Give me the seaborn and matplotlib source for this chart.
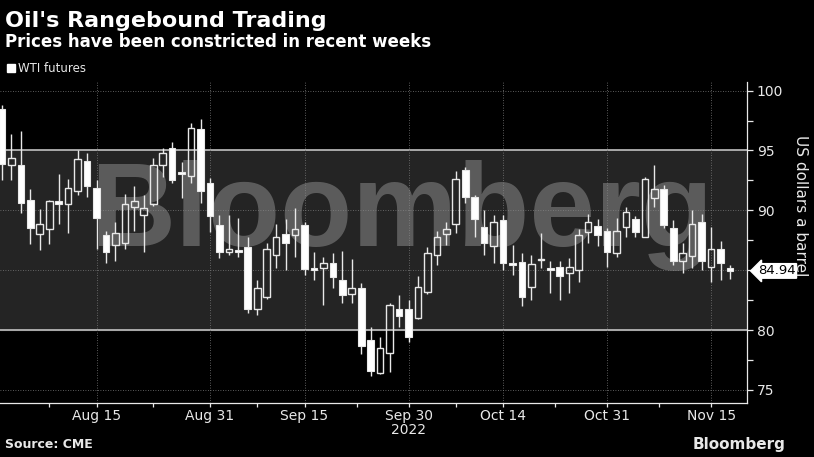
import numpy as np
import pandas as pd
import matplotlib
matplotlib.use("Agg")
import matplotlib.pyplot as plt
import seaborn as sns

# WTI daily candles, Aug 1 - Nov 17 2022
opens = [98.5, 93.75, 93.75, 90.9, 88.0, 88.4, 90.75, 90.5, 91.6, 94.1,
         91.9, 87.9, 87.1, 87.3, 90.3, 89.6, 90.5, 93.75, 95.25, 93.15,
         92.9, 96.8, 92.25, 88.8, 86.5, 86.65, 86.9, 81.8, 82.75, 86.25,
         88.0, 87.9, 88.8, 85.15, 85.2, 85.6, 84.2, 83.0, 83.5, 79.2,
         76.4, 78.1, 81.8, 81.75, 81.0, 83.2, 86.3, 88.0, 88.9, 93.4,
         91.1, 88.6, 87.0, 89.2, 85.55, 85.7, 83.6, 85.85, 85.15, 85.25,
         84.8, 85.0, 88.2, 88.7, 88.3, 86.4, 88.6, 89.3, 87.8, 91.0,
         91.8, 88.5, 85.8, 86.2, 89.0, 85.25, 86.8, 85.2]
closes = [93.9, 94.4, 90.6, 88.5, 88.9, 90.75, 90.5, 91.9, 94.3, 92.0,
          89.4, 86.5, 88.1, 90.5, 90.75, 90.2, 93.75, 94.8, 92.5, 93.05,
          96.9, 91.6, 89.5, 86.5, 86.8, 86.55, 81.8, 83.5, 86.75, 87.75,
          87.25, 88.4, 85.1, 85.05, 85.6, 84.4, 82.9, 83.5, 78.7, 76.6,
          78.5, 82.1, 81.2, 79.4, 83.6, 86.4, 87.75, 88.4, 92.6, 91.1,
          89.3, 87.25, 89.0, 85.6, 85.45, 82.75, 85.5, 85.95, 85.05, 84.5,
          85.25, 87.9, 89.0, 87.9, 86.5, 88.3, 89.9, 88.2, 92.6, 91.75,
          88.8, 85.75, 86.4, 88.9, 85.8, 86.8, 85.6, 84.94]
highs = [98.8, 96.4, 96.6, 91.8, 90.1, 90.9, 93.0, 92.6, 95.0, 94.75,
         92.5, 88.3, 89.0, 91.4, 92.0, 91.25, 94.4, 95.25, 95.7, 94.0,
         97.3, 97.6, 92.7, 89.6, 89.6, 89.4, 87.75, 84.2, 87.25, 88.9,
         89.3, 90.2, 89.0, 86.5, 86.1, 86.4, 86.6, 85.9, 83.9, 80.25,
         79.4, 82.3, 82.9, 82.5, 84.5, 86.9, 88.3, 89.0, 93.3, 93.6,
         91.25, 90.0, 89.6, 89.6, 87.1, 86.4, 86.25, 88.1, 85.8, 85.8,
         86.0, 88.4, 89.7, 89.3, 88.5, 89.4, 90.3, 89.5, 92.75, 93.75,
         92.1, 89.2, 87.25, 90.0, 89.7, 88.6, 87.4, 85.4]
lows = [92.5, 92.5, 89.8, 87.2, 86.7, 87.2, 88.9, 88.1, 91.25, 91.1,
        86.8, 85.6, 85.8, 86.8, 88.3, 86.5, 90.4, 92.75, 92.25, 91.0,
        92.3, 90.6, 88.2, 86.0, 86.25, 86.1, 81.4, 81.25, 82.6, 85.2,
        85.0, 86.1, 84.6, 84.2, 82.1, 83.5, 82.3, 82.3, 78.0, 76.2,
        76.3, 76.5, 80.25, 79.0, 80.9, 83.0, 85.4, 87.1, 88.1, 90.6,
        87.75, 86.25, 85.6, 85.0, 84.6, 82.0, 82.5, 85.2, 83.1, 82.5,
        83.1, 84.0, 87.3, 87.0, 85.25, 86.1, 87.75, 87.75, 87.75, 90.3,
        88.5, 85.4, 84.75, 85.2, 85.0, 84.0, 84.2, 84.25]

tick_labels = ["Aug 15", "Aug 31", "Sep 15", "Sep 30", "Oct 14", "Oct 31", "Nov 15"]
tick_pos = [10, 22, 32, 43, 53, 64, 75]  # candle index of each labelled date
y_ticks = [75, 80, 85, 90, 95, 100]
last_price = 84.94

BG = "black"
BAND = "#242424"
FG = "#e8e8e8"

sns.set_theme(style="dark")
plt.rcParams["font.family"] = ["DejaVu Sans"]

df = pd.DataFrame({"open": opens, "close": closes, "high": highs, "low": lows})
df["x"] = np.arange(len(df))
df["top"] = df[["open", "close"]].max(axis=1)
df["bot"] = df[["open", "close"]].min(axis=1)
df["down"] = df["close"] < df["open"]

fig = plt.figure(figsize=(8.14, 4.57), dpi=100, facecolor=BG)
ax = fig.add_axes([0.0, 0.118, 0.9177, 0.702])
ax.set_facecolor(BG)

ax.set_xlim(-0.21, 78.8)
ax.set_ylim(73.9, 100.7)

# shaded trading range
ax.axhspan(80, 95, color=BAND, zorder=0)
ax.axhline(80, color="#cfcfcf", lw=1.1, zorder=1)
ax.axhline(95, color="#cfcfcf", lw=1.1, zorder=1)
for y in [75, 85, 90, 100]:
    ax.axhline(y, color="#7a7a7a", lw=0.6, ls=(0, (1, 2)), zorder=1)
for x in tick_pos:
    ax.axvline(x, color="#7a7a7a", lw=0.6, ls=(0, (1, 2)), zorder=1)

ax.text(42.3, 89.6, "Bloomberg", fontsize=85, fontweight="bold",
        family="Liberation Sans", color="#8a8a8a", alpha=0.55,
        ha="center", va="center", zorder=2)

# wicks
ax.vlines(df["x"], df["top"], df["high"], color=FG, lw=1.0, zorder=3)
ax.vlines(df["x"], df["low"], df["bot"], color=FG, lw=1.0, zorder=3)
# bodies
h = (df["top"] - df["bot"]).clip(lower=0.12)
dn = df[df["down"]]
up = df[~df["down"]]
ax.bar(dn["x"], h[dn.index], bottom=dn["bot"], width=0.7, color="white",
       edgecolor=FG, lw=0.8, zorder=4)
ax.bar(up["x"], h[up.index], bottom=up["bot"], width=0.7, color="none",
       edgecolor=FG, lw=1.0, zorder=4)

# axes styling
for s in ["top", "left"]:
    ax.spines[s].set_visible(False)
for s in ["right", "bottom"]:
    ax.spines[s].set_visible(True)
    ax.spines[s].set_color(FG)
    ax.spines[s].set_linewidth(0.9)
ax.yaxis.tick_right()
ax.set_yticks(y_ticks)
ax.set_yticks(np.arange(77.5, 100, 5), minor=True)
ax.set_xticks(tick_pos)
ax.set_xticklabels(tick_labels)
ax.set_xticks([(a + b) / 2 for a, b in zip([0] + tick_pos, tick_pos + [80])][:-1], minor=True)
ax.tick_params(axis="both", which="both", colors=FG, labelcolor=FG,
               labelsize=10, direction="out")
ax.tick_params(axis="y", which="both", length=4, width=0.9, pad=3,
               right=True, left=False, labelright=True, labelleft=False)
ax.tick_params(axis="x", which="both", length=3, width=0.9, pad=1, bottom=True)
ax.grid(False)
ax.text(43, 72.2, "2022", color=FG, fontsize=10, ha="center", va="top")
fig.text(0.984, 0.55, "US dollars a barrel", color=FG, fontsize=11, rotation=-90,
         ha="center", va="center")

# last price tag
ax.annotate(f"{last_price:.2f}", xy=(1.0, last_price), xycoords=("axes fraction", "data"),
            xytext=(8, 0), textcoords="offset points", va="center", ha="left",
            fontsize=9.5, color="black",
            bbox=dict(boxstyle="larrow,pad=0.06", fc="white", ec="white"))

fig.text(0.006, 0.955, "Oil's Rangebound Trading", color="white", fontsize=16,
         fontweight="bold", va="center")
fig.text(0.006, 0.908, "Prices have been constricted in recent weeks", color="white",
         fontsize=12, fontweight="bold", va="center")
fig.patches.append(plt.Rectangle((0.008, 0.843), 0.010, 0.018, transform=fig.transFigure,
                                 color="white"))
fig.text(0.022, 0.851, "WTI futures", color=FG, fontsize=8.5, va="center")
fig.text(0.006, 0.028, "Source: CME", color=FG, fontsize=9, fontweight="bold", va="center")
fig.text(0.965, 0.028, "Bloomberg", color=FG, fontsize=11, fontweight="bold",
         va="center", ha="right")

fig.savefig("out.png", dpi=100, facecolor=BG)
